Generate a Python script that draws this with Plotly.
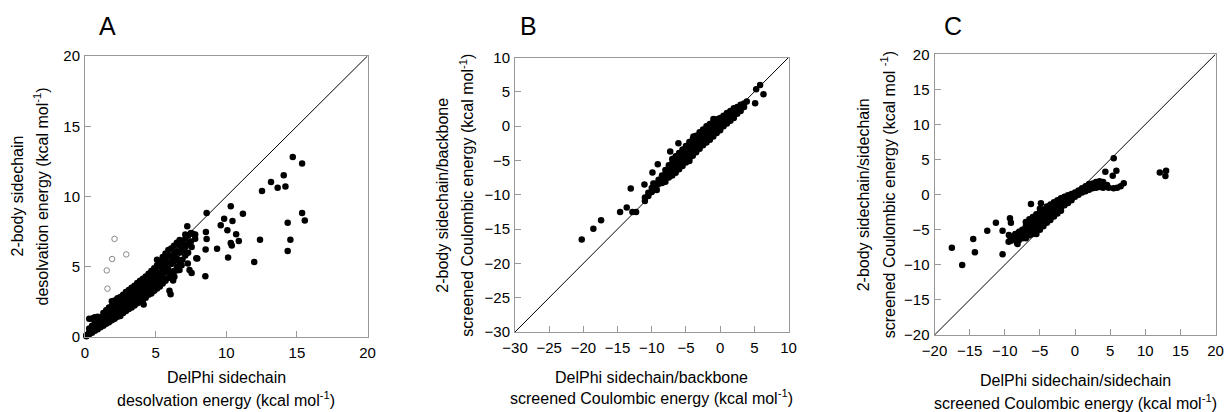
import plotly.graph_objects as go

# ---------------- Panel A : desolation energy ----------------
A_core_cols = [0.1, 0.3, 0.5, 0.7, 0.9, 1.1, 1.3, 1.5, 1.7, 1.9, 2.1, 2.3, 2.5, 2.7, 2.9,
               3.1, 3.3, 3.5, 3.7, 3.9, 4.1, 4.3, 4.5, 4.7, 4.9, 5.1, 5.3, 5.5, 5.7, 5.9,
               6.1, 6.3, 6.5, 6.7, 6.9, 7.1, 7.3, 7.5, 7.8]
A_core_ys = [
    [0.05, 0.15], [0.2, 0.35, 0.6, 1.3], [0.3, 0.55, 0.8, 1.3], [0.45, 0.7, 1.0, 1.4],
    [0.55, 0.85, 1.15, 1.45], [0.7, 0.95, 1.25, 1.35], [0.8, 1.1, 1.4, 1.7],
    [0.95, 1.25, 1.55, 1.9], [1.05, 1.35, 1.7, 2.1], [1.2, 1.5, 1.8, 2.2, 2.55],
    [1.3, 1.6, 1.95, 2.3, 2.6], [1.45, 1.75, 2.05, 2.4, 2.75], [1.5, 1.9, 2.2, 2.5, 2.85],
    [1.7, 2.0, 2.35, 2.65, 3.0], [1.85, 2.2, 2.5, 2.8, 3.2], [2.0, 2.3, 2.65, 2.95, 3.35],
    [2.1, 2.45, 2.8, 3.1, 3.5], [2.25, 2.6, 2.95, 3.3, 3.65], [2.4, 2.8, 3.1, 3.45, 3.85],
    [2.5, 2.9, 3.25, 3.6, 4.0], [2.6, 3.05, 3.4, 3.75, 4.15], [2.8, 3.2, 3.55, 3.9, 4.3],
    [3.0, 3.35, 3.7, 4.05, 4.5], [3.1, 3.5, 3.85, 4.25, 4.7], [3.3, 3.7, 4.0, 4.4, 4.9],
    [3.45, 3.9, 4.2, 4.6, 5.1, 5.5], [3.6, 4.1, 4.5, 5.0, 5.4], [3.8, 4.3, 4.7, 5.2, 5.7],
    [4.0, 4.6, 5.0, 5.5, 5.95], [4.2, 4.8, 5.3, 5.8, 6.2], [4.5, 5.2, 5.7, 6.3],
    [4.7, 5.4, 5.9, 6.5], [5.0, 5.6, 6.1, 6.7], [5.3, 6.0, 6.5, 6.9], [5.5, 6.2, 6.7],
    [5.8, 6.4, 7.0, 7.3], [6.0, 6.6, 7.2], [6.8, 7.4], [7.0, 7.3],
]
A_out_x = [14.71, 15.37, 12.53, 13.17, 13.64, 14.07, 14.19, 15.37, 15.56, 14.35, 14.54, 14.35,
           12.39, 11.98, 11.18, 10.32, 9.85, 9.61, 10.44, 10.08, 10.70, 10.89, 10.32, 10.39,
           10.13, 9.35, 8.61, 8.56, 8.61, 8.54, 8.52, 7.95, 7.24, 7.62, 7.55, 7.55, 6.84,
           6.06, 7.07, 6.48, 6.24, 4.15, 0.6, 1.0, 7.88, 7.28, 6.69, 6.33, 5.98, 7.40]
A_out_y = [12.81, 12.34, 10.39, 11.03, 10.63, 11.51, 10.72, 8.83, 8.30, 8.14, 6.93, 6.12,
           6.93, 5.34, 8.78, 9.30, 8.42, 7.95, 8.26, 7.59, 7.31, 6.83, 6.69, 6.52,
           5.65, 6.29, 8.83, 7.47, 6.98, 6.22, 4.32, 5.58, 7.88, 7.35, 6.41, 4.56, 5.10,
           3.04, 5.98, 4.74, 4.03, 2.32, 1.35, 1.4, 5.60, 5.24, 4.77, 4.29, 3.30, 4.77]
A_open_x = [2.09, 2.92, 1.92, 1.54, 1.59]
A_open_y = [6.98, 5.88, 5.55, 4.74, 3.44]

# ---------------- Panel B : sidechain/backbone ----------------
B_core_cols = [-11.0, -10.5, -10.0, -9.5, -9.0, -8.5, -8.0, -7.5, -7.0, -6.5, -6.0, -5.5,
               -5.0, -4.5, -4.0, -3.5, -3.0, -2.5, -2.0, -1.5, -1.0, -0.5, 0.0, 0.5,
               1.0, 1.5, 2.0, 2.5, 3.0, 3.5]
B_core_ys = [
    [-10.9, -10.4], [-10.2, -9.7], [-9.6, -9.0], [-9.0, -8.4], [-8.4, -7.8],
    [-7.9, -7.2, -8.3], [-6.4, -7.0, -7.6, -8.1], [-5.7, -6.3, -6.9, -7.5],
    [-4.8, -5.4, -6.0, -6.6, -7.2], [-4.4, -5.0, -5.6, -6.2, -6.8],
    [-3.9, -4.5, -5.1, -5.7, -6.3], [-3.4, -4.0, -4.6, -5.2, -5.8],
    [-2.9, -3.5, -4.1, -4.7, -5.3], [-2.3, -2.9, -3.5, -4.1, -4.7, -5.1],
    [-1.9, -2.5, -3.1, -3.7, -4.3], [-1.4, -2.0, -2.6, -3.2, -3.8],
    [-0.9, -1.5, -2.1, -2.7, -3.3], [-0.5, -1.1, -1.7, -2.3, -2.8],
    [0.0, -0.6, -1.2, -1.8, -2.4], [0.3, -0.3, -0.9, -1.5, -2.0],
    [0.6, 0.0, -0.5, -1.1, -1.5], [1.0, 0.4, -0.2, -0.7, -1.0],
    [1.2, 0.7, 0.2, -0.3, -0.6], [1.5, 1.0, 0.5, 0.0], [1.9, 1.4, 0.9, 0.4],
    [2.2, 1.7, 1.2, 0.8], [2.6, 2.1, 1.6, 1.2], [2.8, 2.3, 1.8], [3.1, 2.6, 2.2],
    [3.3, 2.8],
]
B_out_x = [-20.24, -18.54, -17.41, -14.63, -13.66, -13.07, -12.83, -12.29, -11.07, -9.90,
           -9.12, -9.76, -9.27, -6.10, -7.30, -3.90, -0.98, 3.90, 5.85, 5.27, 5.12, 6.34]
B_out_y = [-16.52, -14.96, -13.70, -12.53, -11.85, -9.08, -12.53, -12.53, -8.49, -6.74,
           -5.57, -8.35, -9.32, -2.51, -3.70, -1.53, 1.05, 3.58, 6.01, 5.38, 3.33, 4.65]

# ---------------- Panel C : sidechain/sidechain ----------------
C_core_cols = [-8.5, -8.0, -7.5, -7.0, -6.5, -6.0, -5.5, -5.0, -4.5, -4.0, -3.5, -3.0,
               -2.5, -2.0, -1.5, -1.0, -0.5, 0.0, 0.5, 1.0, 1.5, 2.0, 2.5, 3.0, 3.5, 4.0]
C_core_ys = [
    [-5.6, -6.2], [-5.3, -5.9, -6.5], [-5.0, -5.6, -6.2],
    [-3.9, -4.5, -5.1, -5.7, -6.2], [-3.5, -4.1, -4.7, -5.3, -5.8],
    [-3.2, -3.8, -4.4, -5.0, -5.6], [-2.8, -3.4, -4.0, -4.6, -5.2, -5.6],
    [-2.0, -2.6, -3.2, -3.8, -4.4, -5.0], [-2.1, -2.7, -3.3, -3.9, -4.5],
    [-1.7, -2.3, -2.9, -3.5, -4.0], [-1.4, -2.0, -2.6, -3.1, -3.6],
    [-1.1, -1.6, -2.2, -2.7, -3.1], [-0.8, -1.3, -1.8, -2.3, -2.7],
    [-0.5, -1.0, -1.4, -1.9, -2.3], [-0.3, -0.7, -1.1, -1.5], [-0.1, -0.5, -0.8, -1.2],
    [0.1, -0.2, -0.5, -0.8], [0.3, 0.0, -0.3], [0.6, 0.3, 0.0], [0.9, 0.6, 0.3],
    [1.2, 0.8, 0.5], [1.5, 1.1, 0.7], [1.6, 1.2, 0.9], [1.8, 1.4, 1.0],
    [1.9, 1.5, 1.1], [1.8, 1.3, 1.0],
]
C_out_x = [-17.53, -16.06, -14.49, -14.25, -12.49, -11.26, -10.31, -10.31, -9.26, -9.12,
           -9.41, -9.45, -9.12, -8.27, -7.79, -6.27, -4.85, -8.97, -8.18, -9.22,
           5.51, 5.89, 5.37, 4.32, 6.94, 12.07, 12.97, 12.87, 4.56, 5.5, 6.0, 6.5, 4.8]
C_out_y = [-7.55, -10.02, -6.32, -8.22, -5.13, -3.99, -5.13, -8.50, -3.37, -3.99,
           -5.75, -6.70, -6.56, -6.84, -5.51, -1.33, -1.24, -6.0, -7.03, -6.0,
           5.18, 3.42, 2.71, 3.28, 1.62, 3.14, 3.42, 2.66, 1.38, 0.9, 1.0, 1.2, 1.0]

RANGES = {"A": [0, 20], "B": [-30, 10], "C": [-20, 20]}
TICKS = {"A": [0, 5, 10, 15, 20], "B": [-30, -25, -20, -15, -10, -5, 0, 5, 10],
         "C": [-20, -15, -10, -5, 0, 5, 10, 15, 20]}


def expand(cols, ys):
    xs, yy = [], []
    for c, col in zip(cols, ys):
        for v in col:
            xs.append(c)
            yy.append(v)
    return xs, yy


W, H = 1226, 412
FONT = "Liberation Sans, Arial, Helvetica, sans-serif"
# panel boxes in pixels: left, right, top, bottom
BOX = {"A": (85, 367.5, 56, 337), "B": (515, 788.5, 57.5, 332), "C": (934.5, 1215.5, 54.3, 335)}

fig = go.Figure()
dot = dict(color="black", size=6.5)

for i, key in enumerate(["A", "B", "C"]):
    xa = "x" if i == 0 else f"x{i+1}"
    ya = "y" if i == 0 else f"y{i+1}"
    r = RANGES[key]
    fig.add_trace(go.Scatter(x=r, y=r, mode="lines", line=dict(color="black", width=1),
                             xaxis=xa, yaxis=ya, showlegend=False, hoverinfo="skip"))
    if key == "A":
        cx, cy = expand(A_core_cols, A_core_ys)
        ox, oy = A_out_x, A_out_y
    elif key == "B":
        cx, cy = expand(B_core_cols, B_core_ys)
        ox, oy = B_out_x, B_out_y
    else:
        cx, cy = expand(C_core_cols, C_core_ys)
        ox, oy = C_out_x, C_out_y
    fig.add_trace(go.Scatter(x=cx + ox, y=cy + oy, mode="markers", marker=dot,
                             xaxis=xa, yaxis=ya, showlegend=False, cliponaxis=False))
    if key == "A":
        fig.add_trace(go.Scatter(x=A_open_x, y=A_open_y, mode="markers",
                                 marker=dict(color="white", size=5.5,
                                             line=dict(color="#888888", width=1)),
                                 xaxis=xa, yaxis=ya, showlegend=False))

    l, rr, t, b = BOX[key]
    axcommon = dict(range=r, tickvals=TICKS[key], showgrid=False, zeroline=False,
                    showline=True, linecolor="#999999", linewidth=1, mirror=True,
                    ticks="inside", ticklen=6, tickcolor="#999999", tickwidth=1,
                    automargin=False,
                    tickfont=dict(family=FONT, size=15, color="black"))
    fig.layout[("xaxis" if i == 0 else f"xaxis{i+1}")] = dict(
        axcommon, domain=[l / W, rr / W], anchor=ya, ticklabelstandoff=2)
    fig.layout[("yaxis" if i == 0 else f"yaxis{i+1}")] = dict(
        axcommon, domain=[1 - b / H, 1 - t / H], anchor=xa, ticklabelstandoff=1)

# panel letters
LETTERS = [("A", 97), ("B", 518), ("C", 942)]
ann = []
for txt, px in LETTERS:
    ann.append(dict(text=txt, x=px / W, y=1 - 42 / H, xref="paper", yref="paper",
                    xanchor="left", yanchor="bottom", showarrow=False,
                    font=dict(family=FONT, size=25, color="black")))

SUP = "<sup>-1</sup>"
XTITLES = [
    ("DelPhi sidechain", f"desolvation energy (kcal mol{SUP})", 226, 377, 399),
    ("DelPhi sidechain/backbone", f"screened Coulombic energy (kcal mol{SUP})", 651.5, 377, 397),
    ("DelPhi sidechain/sidechain", f"screened Coulombic energy (kcal mol{SUP})", 1075, 380, 402),
]
YTITLES = [
    ("2-body sidechain", f"desolvation energy (kcal mol{SUP})", 17, 42, 196.5),
    ("2-body sidechain/backbone", f"screened Coulombic energy (kcal mol{SUP})", 441.7, 466.7, 195),
    ("2-body sidechain/sidechain", f"screened Coulombic energy (kcal mol {SUP})", 863.3, 888.3, 195),
]
tf = dict(family=FONT, size=16, color="black")
for l1, l2, cx, y1, y2 in XTITLES:
    for txt, yy in ((l1, y1), (l2, y2)):
        ann.append(dict(text=txt, x=cx / W, y=1 - yy / H, xref="paper", yref="paper",
                        xanchor="center", yanchor="middle", showarrow=False, font=tf))
for l1, l2, x1, x2, cy in YTITLES:
    for txt, xx in ((l1, x1), (l2, x2)):
        ann.append(dict(text=txt, x=xx / W, y=1 - cy / H, xref="paper", yref="paper",
                        xanchor="center", yanchor="middle", showarrow=False, textangle=-90,
                        font=tf))

fig.update_layout(width=W, height=H, margin=dict(l=0, r=0, t=0, b=0, autoexpand=False),
                  paper_bgcolor="white", plot_bgcolor="white", annotations=ann,
                  font=dict(family=FONT))
fig.write_html("out.html", config={"displayModeBar": False},
               post_script="document.body.style.margin='0';document.body.style.padding='0';")
